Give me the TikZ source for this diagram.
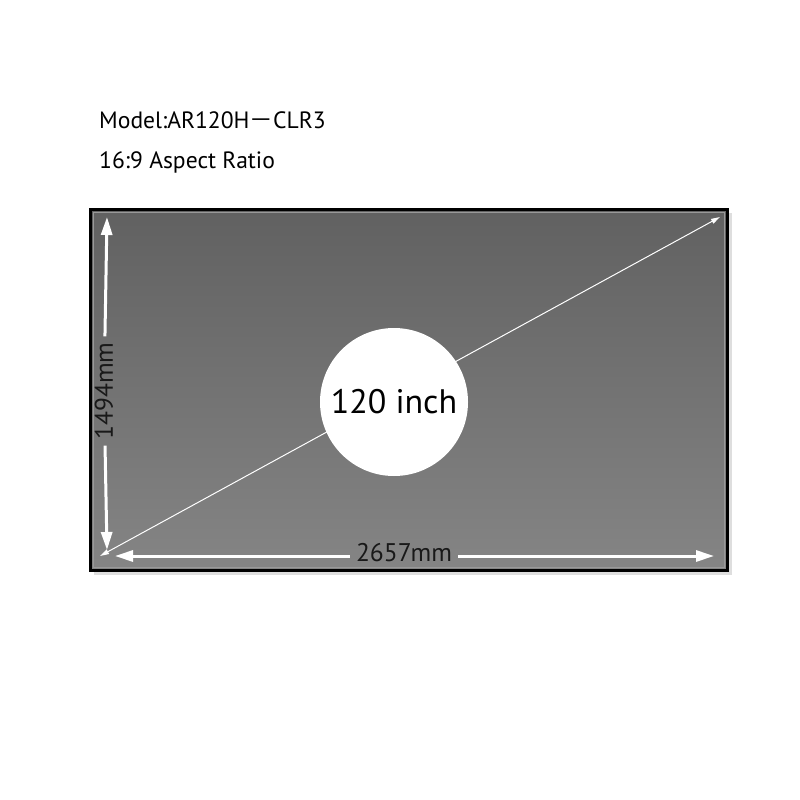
\documentclass[tikz,border=0pt]{standalone}
\usepackage{fontspec}
\setmainfont{PT Sans}
\newfontfamily\cjk{Noto Sans CJK SC}
\usetikzlibrary{arrows.meta}
\begin{document}
\begin{tikzpicture}[x=1pt,y=-1pt,
  title/.style={anchor=base west,inner sep=0,font=\fontsize{23.6}{28}\selectfont},
  dimlabel/.style={inner sep=6pt,text=black!90,font=\fontsize{25.5}{30}\selectfont},
  dimarrow/.style={draw=white,line width=3pt,-{Triangle[length=18pt,width=11pt]}},
  diagline/.style={draw=white,line width=1pt,{Triangle[length=9pt,width=5pt]}-{Triangle[length=9pt,width=5pt]}},
  sizedisc/.style={circle,fill=white,minimum size=148pt,inner sep=0,
    font=\fontsize{34}{40}\selectfont}]
  \useasboundingbox (0,0) rectangle (800,800);
  \node[title] (model) at (99,128) {Model:AR120H{\cjk －}CLR3};
  \node[title] (ratio) at (99,168) {16:9 Aspect Ratio};
  % screen with shadow
  \fill[black!13] (94,213) rectangle (732,575);
  \shade[top color=black!62,bottom color=black!48] (90,209) rectangle (727,570);
  \draw[black!40,line width=1pt] (93,212) rectangle (724,567);
  \draw[black,line width=3pt] (90,209) rectangle (727,570);
  \coordinate (vtop) at (107,217);
  \coordinate (vbot) at (107,550);
  \coordinate (hleft) at (115,556);
  \coordinate (hright) at (714,556);
  \coordinate (dlow) at (100,556);
  \coordinate (dhigh) at (720,217);
  \draw[diagline] (dlow) -- (dhigh);
  \node[sizedisc] (size) at (394,402) {120 inch};
  \node[dimlabel,rotate=90] (height) at (104,391) {1494mm};
  \node[dimlabel] (width) at (404,553) {2657mm};
  \draw[dimarrow] (height) -- (vtop);
  \draw[dimarrow] (height) -- (vbot);
  \draw[dimarrow] (width.west |- hleft) -- (hleft);
  \draw[dimarrow] (width.east |- hright) -- (hright);
\end{tikzpicture}
\end{document}
